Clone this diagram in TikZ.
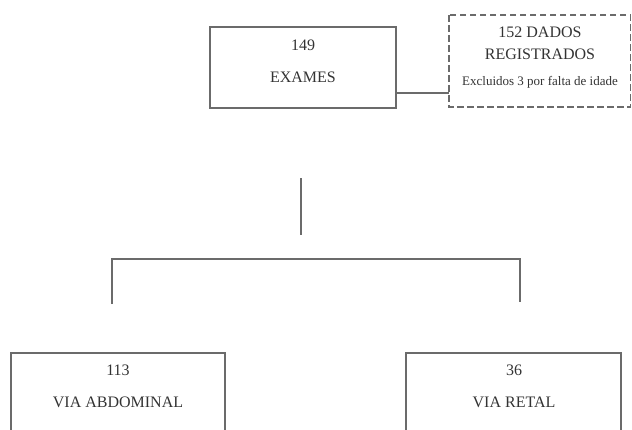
\documentclass[tikz,border=0pt]{standalone}
\usepackage{fontspec}
\setmainfont{Liberation Serif}
\definecolor{lc}{gray}{0.42}
\definecolor{tc}{gray}{0.2}
\begin{document}
\begin{tikzpicture}[x=1pt,y=-1pt,
  box/.style={draw=lc,line width=1.6pt,inner sep=0pt,text=tc},
  dbox/.style={draw=lc,line width=1.6pt,dash pattern=on 6.5pt off 3.5pt,inner sep=0pt},
  conn/.style={draw=lc,line width=1.3pt},
  big/.style={font=\fontsize{16}{18}\selectfont,text=tc},
  small/.style={font=\fontsize{13}{15}\selectfont,text=tc}]
\useasboundingbox (0,0) rectangle (632,429);
\clip (0,0) rectangle (632,429);
% boxes
\draw[box] (210,27) rectangle (396,108);
\coordinate (exR) at (396,93);
\node[big] (n149) at (303,45) {149};
\node[big] (nex) at (303,77) {EXAMES};
\draw[dbox] (449,15) rectangle (630.5,107);
\coordinate (dL) at (449,93);
\node[big] (n152) at (540,32) {152 DADOS};
\node[big] (nreg) at (540,54) {REGISTRADOS};
\node[small] (nexc) at (540,82) {Excluidos 3 por falta de idade};
\draw[conn] (exR) -- (dL);
% tree
\coordinate (t1) at (301,178);
\coordinate (t2) at (301,235);
\coordinate (hl) at (112,259);
\coordinate (hr) at (520,259);
\coordinate (l2) at (112,304);
\coordinate (r2) at (520,302);
\draw[conn] (t1) -- (t2);
\draw[conn] (l2) -- (hl) -- (hr) -- (r2);
% bottom boxes
\draw[box] (11,353) rectangle (225,445);
\node[big] (n113) at (118,370) {113};
\node[big] (nab) at (118,402) {VIA ABDOMINAL};
\draw[box] (406,353) rectangle (621,445);
\node[big] (n36) at (514,370) {36};
\node[big] (nre) at (514,402) {VIA RETAL};
\end{tikzpicture}
\end{document}
